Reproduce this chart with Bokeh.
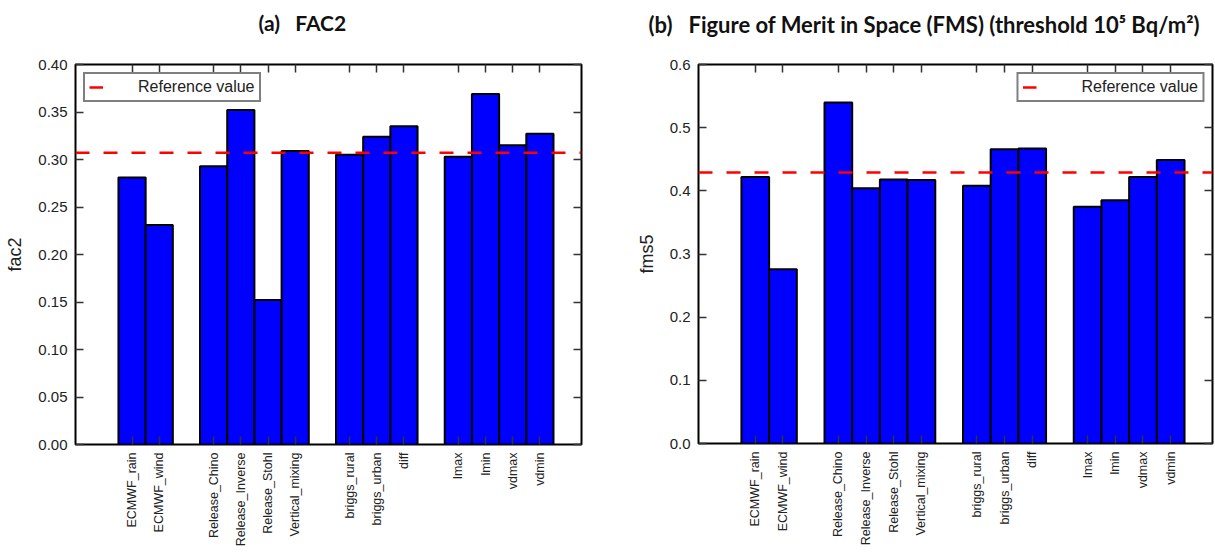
import math
from bokeh.plotting import figure
from bokeh.models import (FixedTicker, LinearAxis, Legend, LegendItem,
                          Range1d, ColumnDataSource, NumeralTickFormatter)
from bokeh.layouts import row
from bokeh.embed import file_html
from bokeh.resources import INLINE

# ---------------- data ----------------
groups = [
    ["ECMWF_rain", "ECMWF_wind"],
    ["Release_Chino", "Release_Inverse", "Release_Stohl", "Vertical_mixing"],
    ["briggs_rural", "briggs_urban", "diff"],
    ["lmax", "lmin", "vdmax", "vdmin"],
]
fac2 = [0.281, 0.231, 0.293, 0.352, 0.152, 0.309, 0.305, 0.324, 0.335,
        0.303, 0.369, 0.315, 0.327]
fac2_ref = 0.307
fms5 = [0.422, 0.276, 0.540, 0.404, 0.418, 0.417, 0.408, 0.466, 0.467,
        0.375, 0.385, 0.422, 0.449]
fms5_ref = 0.429
fac2_ticks = [0.00, 0.05, 0.10, 0.15, 0.20, 0.25, 0.30, 0.35, 0.40]
fms5_ticks = [0.0, 0.1, 0.2, 0.3, 0.4, 0.5, 0.6]

# category positions: one empty slot between groups
names, positions = [], []
pos = 1
for g in groups:
    for n in g:
        names.append(n)
        positions.append(pos)
        pos += 1
    pos += 1

LABEL_FONT = "Liberation Sans"


def make_plot(values, ref, yticks, ylabel, fmt, title, title_offset, title_size,
              title_standoff, xr, frame_w, frame_h, bl, br, bt, bb, legend_loc,
              standoff):
    p = figure(output_backend="svg", toolbar_location=None,
               frame_width=frame_w, frame_height=frame_h,
               min_border_left=bl, min_border_right=br,
               min_border_top=bt, min_border_bottom=bb,
               x_range=Range1d(*xr), y_range=Range1d(yticks[0], yticks[-1]))
    p.background_fill_color = "white"
    p.border_fill_color = "white"
    p.grid.visible = False
    p.outline_line_color = "black"
    p.outline_line_width = 2

    src = ColumnDataSource(dict(x=positions, top=values))
    p.vbar(x="x", top="top", bottom=0, width=1.0, source=src,
           fill_color="#0000FF", line_color="black", line_width=2)

    ref_line = p.line(x=[xr[0], xr[1]], y=[ref, ref], line_color="#FF0000",
                      line_width=2.5, line_dash="14 14")

    # bottom axis
    xa = p.xaxis[0]
    xa.ticker = FixedTicker(ticks=positions)
    xa.major_label_overrides = {x: n for x, n in zip(positions, names)}
    xa.major_label_orientation = math.pi / 2
    xa.major_label_text_font = LABEL_FONT
    xa.major_label_text_font_size = "12.5px"
    xa.major_label_text_color = "#222222"
    xa.major_label_standoff = 8
    xa.major_tick_in = 8
    xa.major_tick_out = 0
    xa.major_tick_line_color = "#333333"
    xa.major_tick_line_width = 1.5
    xa.axis_line_color = None

    # left axis
    ya = p.yaxis[0]
    ya.ticker = FixedTicker(ticks=yticks)
    ya.formatter = NumeralTickFormatter(format=fmt)
    ya.major_label_text_font = LABEL_FONT
    ya.major_label_text_font_size = "15px"
    ya.major_label_text_color = "#222222"
    ya.major_label_standoff = 8
    ya.major_tick_in = 8
    ya.major_tick_out = 0
    ya.major_tick_line_color = "#333333"
    ya.major_tick_line_width = 1.5
    ya.axis_line_color = None
    ya.axis_label = ylabel
    ya.axis_label_text_font = LABEL_FONT
    ya.axis_label_text_font_style = "normal"
    ya.axis_label_text_font_size = "18px"
    ya.axis_label_text_color = "#222222"
    ya.axis_label_standoff = 10

    # mirrored ticks top / right
    top = LinearAxis(ticker=FixedTicker(ticks=positions),
                     major_label_overrides={x: "" for x in positions},
                     major_tick_in=8, major_tick_out=0,
                     major_tick_line_color="#333333", major_tick_line_width=1.5,
                     axis_line_color=None, major_label_standoff=0,
                     major_label_text_font_size="1px")
    p.add_layout(top, "above")
    right = LinearAxis(ticker=FixedTicker(ticks=yticks),
                       major_label_overrides={y: "" for y in yticks},
                       major_tick_in=8, major_tick_out=0,
                       major_tick_line_color="#333333", major_tick_line_width=1.5,
                       axis_line_color=None, major_label_standoff=0,
                       major_label_text_font_size="1px")
    p.add_layout(right, "right")

    # legend
    leg = Legend(items=[LegendItem(label="Reference value", renderers=[ref_line])],
                 location=legend_loc)
    leg.border_line_color = "black"
    leg.border_line_width = 2
    leg.background_fill_color = "white"
    leg.background_fill_alpha = 1.0
    leg.padding = 4
    leg.margin = 8
    leg.spacing = 0
    leg.glyph_width = 14
    leg.glyph_height = 16
    leg.label_height = 16
    leg.label_standoff = standoff
    leg.label_text_font = LABEL_FONT
    leg.label_text_font_size = "16px"
    leg.label_text_color = "#222222"
    p.add_layout(leg)

    # title: an empty second line lifts the text higher above the frame
    p.title.text = title + "\n"
    p.title.text_font = "Lato"
    p.title.text_font_style = "bold"
    p.title.text_font_size = title_size
    p.title.text_line_height = 1.0
    p.title.text_color = "#111111"
    p.title.align = "left"
    p.title.offset = title_offset
    p.title.standoff = title_standoff
    return p


p1 = make_plot(fac2, fac2_ref, fac2_ticks, "fac2", "0.00",
               "(a)\u00a0\u00a0 FAC2", 183, "21px", 10,
               (-1.08, 17.53), 506, 380, 75, 29, 64, 111, "top_left", 35)
p2 = make_plot(fms5, fms5_ref, fms5_ticks, "fms5", "0.0",
               "(b)\u00a0\u00a0 Figure of Merit in Space (FMS) (threshold 10\u2075 Bq/m\u00b2)",
               -50, "22px", 0,
               (-1.05, 17.51), 514, 379, 88, 3, 64, 112, "top_right", 45)

layout = row(p1, p2)
open("out.html", "w").write(file_html(layout, INLINE))
